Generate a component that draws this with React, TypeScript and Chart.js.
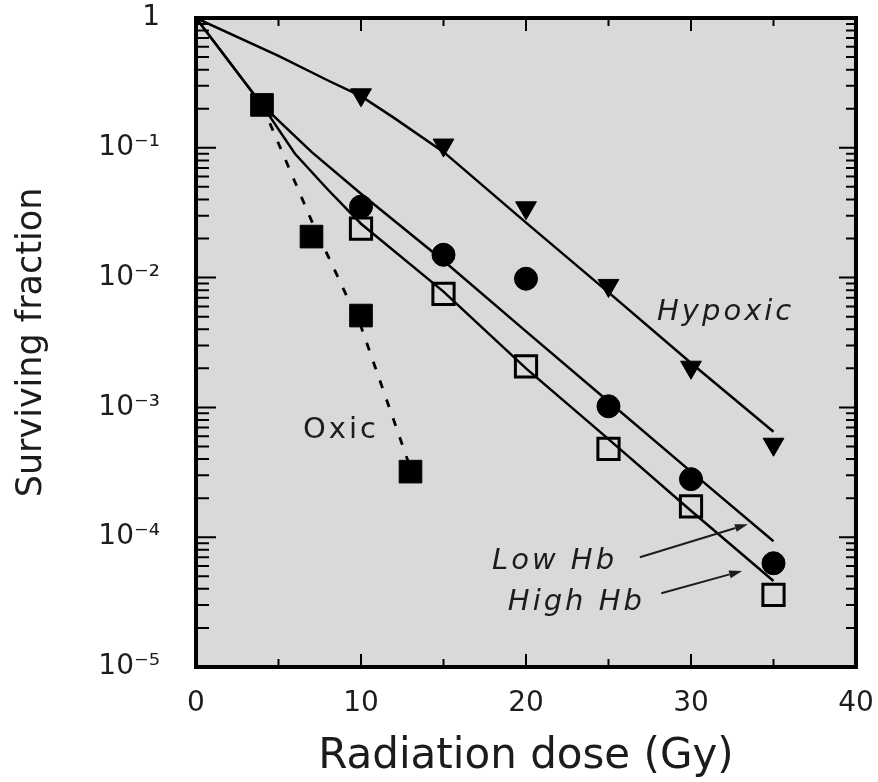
import React, { useEffect, useRef } from 'react';
import { Chart, registerables } from 'chart.js';

Chart.register(...registerables);

// ---- Data ----
// Measured points
const doseHypoxic = [10, 15, 20, 25, 30, 35];
const sfHypoxic = [0.256, 0.105, 0.0345, 0.0087, 0.00204, 0.00052];

const doseLowHb = [10, 15, 20, 25, 30, 35];
const sfLowHb = [0.0352, 0.015, 0.0098, 0.00102, 0.00028, 0.000063];

const doseHighHb = [10, 15, 20, 25, 30, 35];
const sfHighHb = [0.0238, 0.0075, 0.00207, 0.00048, 0.000173, 0.000036];

const doseOxic = [4, 7, 10, 13];
const sfOxic = [0.214, 0.0207, 0.0051, 0.00032];

// Fitted curves
const fitDoseHypoxic = [0, 5, 8, 10, 12, 15, 20, 25, 30, 35];
const fitSfHypoxic = [1, 0.51, 0.33, 0.25, 0.17, 0.093, 0.0265, 0.0077, 0.0022, 0.00065];

const fitDoseLowHb = [0, 4, 7, 10, 15, 20, 25, 30, 35];
const fitSfLowHb = [1, 0.214, 0.093, 0.0443, 0.0135, 0.00385, 0.00111, 0.00032, 0.000093];

const fitDoseHighHb = [0, 4, 6, 8, 10, 15, 20, 25, 30, 35];
const fitSfHighHb = [1, 0.214, 0.09, 0.0475, 0.026, 0.0078, 0.002, 0.00057, 0.00016, 0.000046];

const fitDoseOxic = [4, 7, 10, 13];
const fitSfOxic = [0.214, 0.0275, 0.0042, 0.00034];

// Axis ticks
const xTickValues = [0, 10, 20, 30, 40];
const xTickLabels = ['0', '10', '20', '30', '40'];
const yTickValues = [1e-5, 1e-4, 1e-3, 1e-2, 1e-1, 1];
const yTickLabels = ['10\u207B\u2075', '10\u207B\u2074', '10\u207B\u00B3', '10\u207B\u00B2', '10\u207B\u00B9', '1'];

const toPts = (xs: number[], ys: number[]) => xs.map((x, i) => ({ x, y: ys[i] }));

const FONT = '"DejaVu Sans", "Liberation Sans", sans-serif';
const INK = '#1c1c1c';

// annotation layout (data coordinates)
const labelSpecs = [
  { text: 'Hypoxic', x: 27.94, y: 4.75e-3, italic: true },
  { text: 'Oxic', x: 6.48, y: 5.78e-4, italic: false },
  { text: 'Low Hb', x: 17.94, y: 5.67e-5, italic: true },
  { text: 'High Hb', x: 18.9, y: 2.75e-5, italic: true },
];
const arrowSpecs = [
  { x0: 26.9, y0: 7.0e-5, x1: 33.45, y1: 1.26e-4 },
  { x0: 28.2, y0: 3.7e-5, x1: 33.1, y1: 5.5e-5 },
];

const framePlugin = {
  id: 'frame',
  beforeDraw(chart: any) {
    const { ctx, chartArea: a } = chart;
    ctx.save();
    ctx.fillStyle = '#d9d9d9';
    ctx.fillRect(a.left, a.top, a.right - a.left, a.bottom - a.top);
    ctx.restore();
  },
  afterDraw(chart: any) {
    const { ctx, chartArea: a, scales } = chart;
    const xs = scales.x;
    const ys = scales.y;
    ctx.save();
    ctx.strokeStyle = '#000';
    ctx.lineWidth = 2;
    // x ticks, inward, bottom and top
    for (let v = xs.min; v <= xs.max; v += 5) {
      const px = xs.getPixelForValue(v);
      const major = v % 10 === 0;
      const len = major ? 13 : 8;
      ctx.beginPath();
      ctx.moveTo(px, a.bottom);
      ctx.lineTo(px, a.bottom - len);
      ctx.moveTo(px, a.top);
      ctx.lineTo(px, a.top + len);
      ctx.stroke();
    }
    // y ticks (log), inward, left and right
    for (let e = -5; e <= 0; e++) {
      for (let m = 1; m <= 9; m++) {
        const v = m * Math.pow(10, e);
        if (v > ys.max * 1.0001) break;
        const py = ys.getPixelForValue(v);
        const major = m === 1;
        ctx.beginPath();
        ctx.moveTo(a.left, py);
        ctx.lineTo(a.left + (major ? 20 : 13), py);
        ctx.moveTo(a.right, py);
        ctx.lineTo(a.right - (major ? 17 : 10), py);
        ctx.stroke();
      }
    }
    // frame
    ctx.lineWidth = 4;
    ctx.strokeRect(a.left, a.top, a.right - a.left, a.bottom - a.top);

    // labels
    ctx.fillStyle = INK;
    ctx.textAlign = 'left';
    ctx.textBaseline = 'alphabetic';
    (ctx as any).letterSpacing = '3px';
    for (const l of labelSpecs) {
      ctx.font = `${l.italic ? 'italic ' : ''}29px ${FONT}`;
      ctx.fillText(l.text, xs.getPixelForValue(l.x), ys.getPixelForValue(l.y));
    }
    (ctx as any).letterSpacing = '0px';

    // arrows
    ctx.strokeStyle = INK;
    ctx.lineWidth = 2;
    for (const s of arrowSpecs) {
      const x0 = xs.getPixelForValue(s.x0);
      const y0 = ys.getPixelForValue(s.y0);
      const x1 = xs.getPixelForValue(s.x1);
      const y1 = ys.getPixelForValue(s.y1);
      const ang = Math.atan2(y1 - y0, x1 - x0);
      const hl = 13;
      const hw = 4;
      const bx = x1 - hl * Math.cos(ang);
      const by = y1 - hl * Math.sin(ang);
      ctx.beginPath();
      ctx.moveTo(x0, y0);
      ctx.lineTo(bx, by);
      ctx.stroke();
      ctx.beginPath();
      ctx.moveTo(x1, y1);
      ctx.lineTo(bx + hw * Math.sin(ang), by - hw * Math.cos(ang));
      ctx.lineTo(bx - hw * Math.sin(ang), by + hw * Math.cos(ang));
      ctx.closePath();
      ctx.fill();
    }
    ctx.restore();
  },
};

export default function App() {
  const canvasRef = useRef<HTMLCanvasElement | null>(null);

  useEffect(() => {
    document.body.style.margin = '0';
    const canvas = canvasRef.current;
    if (!canvas) return;

    const curve = (label: string, xs: number[], ys: number[], dashed = false) => ({
      label,
      data: toPts(xs, ys),
      showLine: true,
      borderColor: '#000',
      borderWidth: dashed ? 2.8 : 2.5,
      borderDash: dashed ? [8, 12] : [],
      pointRadius: 0,
      fill: false,
      order: 2,
    });

    const chart = new Chart(canvas, {
      type: 'scatter',
      data: {
        datasets: [
          {
            label: 'Hypoxic',
            data: toPts(doseHypoxic, sfHypoxic),
            pointStyle: 'triangle',
            pointRotation: 180,
            pointRadius: 12,
            backgroundColor: '#000',
            borderColor: '#000',
            borderWidth: 1,
            order: 1,
          },
          {
            label: 'Low Hb',
            data: toPts(doseLowHb, sfLowHb),
            pointStyle: 'circle',
            pointRadius: 11.5,
            backgroundColor: '#000',
            borderColor: '#000',
            borderWidth: 1,
            order: 1,
          },
          {
            label: 'High Hb',
            data: toPts(doseHighHb, sfHighHb),
            pointStyle: 'rect',
            pointRadius: 15,
            backgroundColor: 'rgba(0,0,0,0)',
            borderColor: '#000',
            borderWidth: 3,
            order: 1,
          },
          {
            label: 'Oxic',
            data: toPts(doseOxic, sfOxic),
            pointStyle: 'rect',
            pointRadius: 16,
            backgroundColor: '#000',
            borderColor: '#000',
            borderWidth: 1,
            order: 1,
          },
          curve('Hypoxic fit', fitDoseHypoxic, fitSfHypoxic),
          curve('Low Hb fit', fitDoseLowHb, fitSfLowHb),
          curve('High Hb fit', fitDoseHighHb, fitSfHighHb),
          curve('Oxic fit', fitDoseOxic, fitSfOxic, true),
        ] as any,
      },
      options: {
        responsive: true,
        maintainAspectRatio: false,
        animation: false,
        layout: { padding: { left: 0, right: 22, top: 16, bottom: 0 } },
        plugins: {
          legend: { display: false },
          tooltip: { enabled: false },
        },
        scales: {
          x: {
            type: 'linear',
            min: 0,
            max: 40,
            afterBuildTicks: (s: any) => {
              s.ticks = xTickValues.map((v) => ({ value: v }));
            },
            afterFit: (s: any) => {
              s.height = 115;
              s.paddingLeft = 0;
              s.paddingRight = 0;
            },
            grid: { display: false, drawTicks: false },
            border: { display: false },
            ticks: {
              autoSkip: false,
              maxRotation: 0,
              padding: 20,
              color: INK,
              font: { family: FONT, size: 28 },
              callback: (_v: any, i: number) => xTickLabels[i],
            },
            title: {
              display: true,
              text: 'Radiation dose (Gy)',
              color: INK,
              font: { family: FONT, size: 42 },
              padding: { top: 0, bottom: 0 },
            },
          },
          y: {
            type: 'logarithmic',
            min: 1e-5,
            max: 1,
            afterBuildTicks: (s: any) => {
              s.ticks = yTickValues.map((v) => ({ value: v }));
            },
            afterFit: (s: any) => {
              s.width = 196;
              s.paddingTop = 0;
              s.paddingBottom = 0;
            },
            grid: { display: false, drawTicks: false },
            border: { display: false },
            ticks: {
              autoSkip: false,
              padding: 36,
              color: INK,
              font: { family: FONT, size: 28 },
              callback: (_v: any, i: number) => yTickLabels[i],
            },
            title: {
              display: true,
              text: 'Surviving fraction',
              color: INK,
              font: { family: FONT, size: 35 },
              padding: { top: 11, bottom: 0 },
            },
          },
        },
      } as any,
      plugins: [framePlugin],
    });

    return () => chart.destroy();
  }, []);

  return (
    <div style={{ width: 878, height: 782, position: 'relative', background: '#fff' }}>
      <canvas ref={canvasRef} />
    </div>
  );
}
